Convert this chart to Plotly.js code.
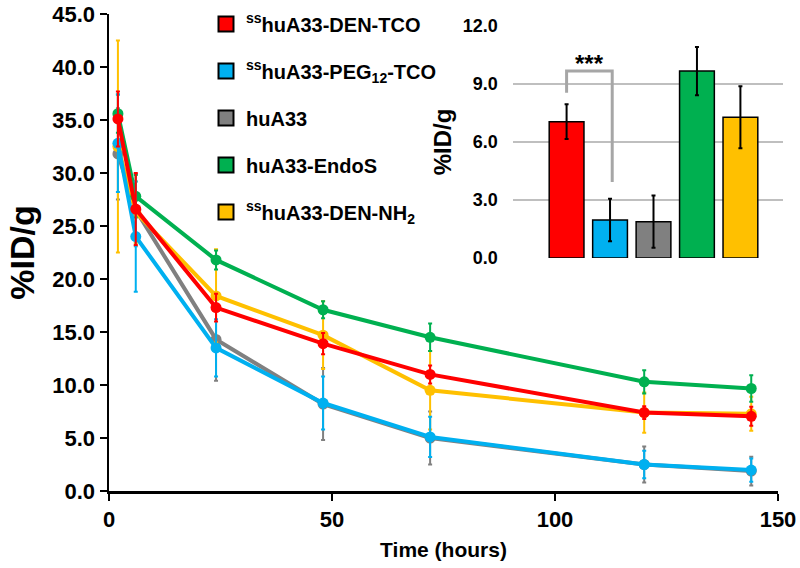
<!DOCTYPE html>
<html>
<head>
<meta charset="utf-8">
<script src="https://cdn.plot.ly/plotly-3.0.1.min.js"></script>
<style>html,body{margin:0;padding:0;background:#fff;}#chart{width:800px;height:568px;}</style>
</head>
<body>
<div id="chart"></div>
<script>
// ---- data ----
const timesH = [2, 6, 24, 48, 72, 120, 144];
const seriesNames = [
  '<sup>ss</sup>huA33-DEN-TCO',
  '<sup>ss</sup>huA33-PEG<sub>12</sub>-TCO',
  'huA33',
  'huA33-EndoS',
  '<sup>ss</sup>huA33-DEN-NH<sub>2</sub>'
];
const seriesColors = ['#ff0000', '#00b0f0', '#808080', '#00b050', '#ffc000'];
const denTco    = [35.1, 26.6, 17.3, 13.9, 11.0, 7.4, 7.05];
const denTcoErr = [2.6, 3.4, 1.3, 1.0, 0.85, 0.6, 0.9];
const pegTco    = [32.8, 24.0, 13.5, 8.3, 5.1, 2.5, 1.97];
const pegTcoErr = [4.6, 5.2, 2.7, 2.5, 1.9, 1.3, 1.1];
const huA33     = [31.8, 26.5, 14.3, 8.2, 5.0, 2.5, 1.88];
const huA33Err  = [4.3, 3.4, 3.9, 3.4, 2.5, 1.7, 1.35];
const endoS     = [35.6, 27.8, 21.8, 17.1, 14.5, 10.3, 9.67];
const endoSErr  = [1.8, 2.0, 0.9, 0.8, 1.3, 1.1, 1.25];
const denNh2    = [32.5, 26.3, 18.4, 14.7, 9.5, 7.4, 7.28];
const denNh2Err = [10.0, 2.9, 4.4, 3.2, 3.7, 1.9, 1.6];

// inset (144 h)
const insetPos   = [1, 2, 3, 4, 5];
const insetVals  = [7.05, 1.97, 1.88, 9.67, 7.28];
const insetErr   = [0.9, 1.1, 1.35, 1.25, 1.6];
// significance bracket between bar 1 and bar 2
const bracketX   = [1, 2.05];
const bracketY   = [8.55, 9.67, 3.93]; // left foot, top, right foot
const sigText    = '***';

const allVals = [denTco, pegTco, huA33, endoS, denNh2];
const allErr  = [denTcoErr, pegTcoErr, huA33Err, endoSErr, denNh2Err];

const FONT = 'Liberation Sans, Arial, sans-serif';
const traces = [];
// draw order: gray, yellow, green, blue, red
const order = [2, 4, 3, 1, 0];
order.forEach(i => {
  traces.push({
    type: 'scatter', mode: 'lines+markers',
    x: timesH, y: allVals[i],
    line: {color: seriesColors[i], width: 4},
    marker: {color: seriesColors[i], size: 11},
    error_y: {type: 'data', array: allErr[i], visible: true, color: seriesColors[i], thickness: 2, width: 2},
    showlegend: false, xaxis: 'x', yaxis: 'y', hoverinfo: 'x+y'
  });
});
// legend entries
[0, 1, 2, 3, 4].forEach(i => {
  traces.push({
    type: 'scatter', mode: 'markers', x: [null], y: [null],
    name: seriesNames[i], legendgroup: 'g' + i, showlegend: true,
    marker: {symbol: 'square', color: seriesColors[i], size: 15, line: {color: '#000', width: 2}},
    xaxis: 'x', yaxis: 'y'
  });
});
// inset bars
traces.push({
  type: 'bar', x: insetPos, y: insetVals, width: 0.8,
  marker: {color: seriesColors, line: {color: '#000', width: 1.5}},
  error_y: {type: 'data', array: insetErr, visible: true, color: '#000', thickness: 2, width: 2},
  showlegend: false, xaxis: 'x2', yaxis: 'y2'
});

const L = 109, R = 17, T = 14, B = 77;
const W = 800 - L - R, H = 568 - T - B;
const layout = {
  width: 800, height: 568,
  margin: {l: L, r: R, t: T, b: B, pad: 0, autoexpand: false},
  paper_bgcolor: '#fff', plot_bgcolor: 'rgba(0,0,0,0)',
  font: {family: FONT, color: '#000', weight: 'bold'},
  showlegend: true,
  legend: {
    x: (206 - L) / W, y: 1.02, xanchor: 'left', yanchor: 'top',
    bgcolor: 'rgba(0,0,0,0)', font: {family: FONT, size: 20, weight: 'bold', color: '#000'},
    traceorder: 'grouped', tracegroupgap: 18, itemwidth: 30
  },
  xaxis: {
    domain: [0, (778 - L) / W], range: [0, 150], tickvals: [0, 50, 100, 150],
    showgrid: false, zeroline: false, showline: true, linecolor: '#000', linewidth: 2.5,
    ticks: 'outside', ticklen: 7, tickwidth: 2, tickcolor: '#000',
    tickfont: {family: FONT, size: 22, weight: 'bold'},
    title: {text: 'Time (hours)', font: {family: FONT, size: 21, weight: 'bold'}, standoff: 12}
  },
  yaxis: {
    domain: [0, 1], range: [0, 45], tickvals: [0, 5, 10, 15, 20, 25, 30, 35, 40, 45], tickformat: '.1f',
    showgrid: false, zeroline: false, showline: true, linecolor: '#000', linewidth: 2.5,
    ticks: 'outside', ticklen: 7, tickwidth: 2, tickcolor: '#000',
    tickfont: {family: FONT, size: 22, weight: 'bold'},
    title: {text: '%ID/g', font: {family: FONT, size: 34, weight: 'bold'}, standoff: 8}
  },
  xaxis2: {
    domain: [(512.7 - L) / W, 1], range: [-0.24, 5.98], anchor: 'y2',
    showgrid: false, zeroline: false, showline: false, showticklabels: false, ticks: ''
  },
  yaxis2: {
    domain: [(491 - 258) / H, (491 - 26) / H], range: [0, 12], anchor: 'x2',
    tickvals: [0, 3, 6, 9, 12], tickformat: '.1f',
    showgrid: true, gridcolor: '#bfbfbf', gridwidth: 2, zeroline: false, showline: false, ticks: '',
    ticklabelstandoff: 14,
    tickfont: {family: FONT, size: 18, weight: 'bold'},
    title: {text: '%ID/g', font: {family: FONT, size: 24, weight: 'bold'}, standoff: 4}
  },
  shapes: [
    {type: 'path', xref: 'x2', yref: 'y2',
     path: 'M ' + bracketX[0] + ',' + bracketY[0] + ' L ' + bracketX[0] + ',' + bracketY[1] +
           ' L ' + bracketX[1] + ',' + bracketY[1] + ' L ' + bracketX[1] + ',' + bracketY[2],
     line: {color: '#a6a6a6', width: 3}}
  ],
  annotations: [
    {xref: 'x2', yref: 'y2', x: (bracketX[0] + bracketX[1]) / 2, y: bracketY[1], yanchor: 'bottom',
     text: sigText, showarrow: false, font: {family: FONT, size: 24, weight: 'bold'}, yshift: -8}
  ]
};

Plotly.newPlot('chart', traces, layout, {displayModeBar: false, staticPlot: true});
</script>
</body>
</html>
